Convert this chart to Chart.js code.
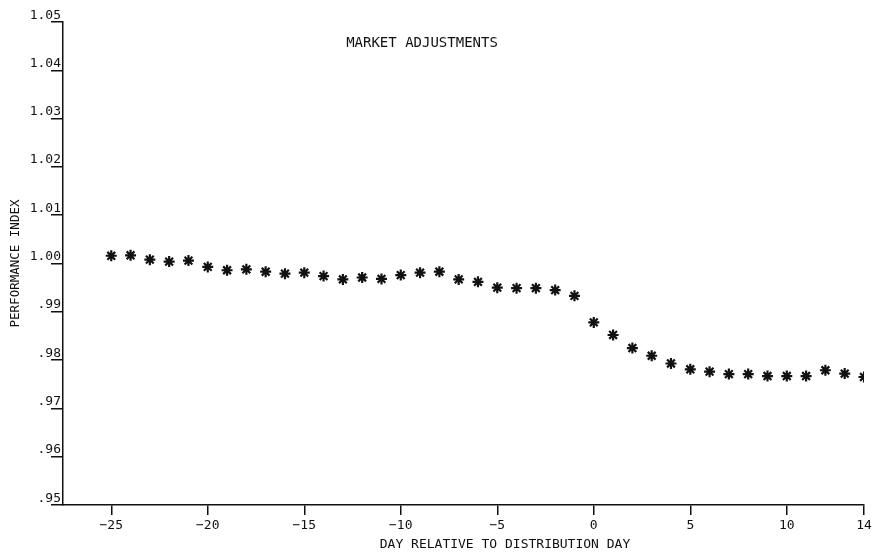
<!DOCTYPE html>
<html>
<head>
<meta charset="utf-8">
<script src="https://cdn.jsdelivr.net/npm/chart.js@4.4.1/dist/chart.umd.min.js"></script>
<style>
  html, body { margin: 0; padding: 0; background: #ffffff; }
  #wrap { width: 878px; height: 552px; }
</style>
</head>
<body>
<div id="wrap"><canvas id="c" width="878" height="552"></canvas></div>
<script>
// ---- data ----
const days = [-25,-24,-23,-22,-21,-20,-19,-18,-17,-16,-15,-14,-13,-12,-11,-10,-9,-8,-7,-6,-5,-4,-3,-2,-1,0,1,2,3,4,5,6,7,8,9,10,11,12,13,14];
const performanceIndex = [
  1.0016, 1.0017, 1.0008, 1.0004, 1.0006, 0.9993, 0.9986, 0.9988, 0.9983, 0.9979,
  0.9981, 0.9974, 0.9967, 0.9971, 0.9968, 0.9976, 0.9981, 0.9983, 0.9967, 0.9962,
  0.9950, 0.9949, 0.9949, 0.9945, 0.9933, 0.9878, 0.9852, 0.9825, 0.9809, 0.9793,
  0.9781, 0.9776, 0.9771, 0.9771, 0.9767, 0.9767, 0.9767, 0.9779, 0.9772, 0.9765
];
const xTickValues = [-25, -20, -15, -10, -5, 0, 5, 10, 14];
const yTickValues = [0.95, 0.96, 0.97, 0.98, 0.99, 1.00, 1.01, 1.02, 1.03, 1.04, 1.05];
const yTickLabels = ['.95', '.96', '.97', '.98', '.99', '1.00', '1.01', '1.02', '1.03', '1.04', '1.05'];
const chartTitle = 'MARKET ADJUSTMENTS';
const xAxisTitle = 'DAY RELATIVE TO DISTRIBUTION DAY';
const yAxisTitle = 'PERFORMANCE INDEX';

const FONT = "'DejaVu Sans Mono', 'Liberation Mono', monospace";
const INK = '#111111';

const textPlugin = {
  id: 'textPlugin',
  beforeDraw(chart) {
    const ctx = chart.ctx;
    ctx.save();
    ctx.fillStyle = '#ffffff';
    ctx.fillRect(0, 0, chart.width, chart.height);
    ctx.restore();
  },
  afterDraw(chart) {
    const ctx = chart.ctx;
    const xs = chart.scales.x;
    ctx.save();
    ctx.fillStyle = INK;
    ctx.textAlign = 'center';
    ctx.textBaseline = 'middle';
    ctx.font = "14px " + FONT;
    ctx.fillText(chartTitle, xs.getPixelForValue(-8.9), 43);
    ctx.font = "13px " + FONT;
    ctx.fillText(xAxisTitle, xs.getPixelForValue(-4.6), 545);
    ctx.restore();
  }
};

new Chart(document.getElementById('c'), {
  type: 'scatter',
  data: {
    datasets: [{
      data: days.map((d, i) => ({ x: d, y: performanceIndex[i] })),
      pointStyle: 'star',
      pointRadius: 5.5,
      pointBorderWidth: 2.2,
      pointBorderColor: INK,
      pointBackgroundColor: INK,
      showLine: false
    }]
  },
  options: {
    responsive: false,
    animation: false,
    layout: { padding: { left: 0, right: 14, top: 22, bottom: 0 } },
    plugins: { legend: { display: false }, tooltip: { enabled: false }, title: { display: false } },
    scales: {
      x: {
        type: 'linear',
        min: -27.5,
        max: 14,
        afterBuildTicks(scale) { scale.ticks = xTickValues.map(v => ({ value: v })); },
        afterFit(scale) { scale.height = 47; },
        grid: { display: true, drawOnChartArea: false, drawTicks: true, tickLength: 10, color: INK, lineWidth: 1.5 },
        border: { display: true, color: INK, width: 1.5 },
        ticks: {
          color: INK,
          font: { family: FONT, size: 13 },
          padding: 3,
          maxRotation: 0,
          autoSkip: false,
          callback: (v) => String(v).replace('-', '\u2212')
        }
      },
      y: {
        type: 'linear',
        min: 0.95,
        max: 1.05,
        afterBuildTicks(scale) { scale.ticks = yTickValues.map(v => ({ value: v })); },
        afterFit(scale) { scale.width = 63; },
        grid: { display: true, drawOnChartArea: false, drawTicks: true, tickLength: 12, color: INK, lineWidth: 1.5 },
        border: { display: true, color: INK, width: 1.5 },
        title: { display: true, text: yAxisTitle, color: INK, font: { family: FONT, size: 12.5 }, padding: { top: 8, bottom: 0 } },
        ticks: {
          color: INK,
          font: { family: FONT, size: 13, lineHeight: 1.05 },
          padding: -10,
          autoSkip: false,
          callback: (v) => {
            const i = yTickValues.findIndex(t => Math.abs(t - v) < 1e-9);
            return [i >= 0 ? yTickLabels[i] : String(v), ''];
          }
        }
      }
    }
  },
  plugins: [textPlugin]
});
</script>
</body>
</html>
